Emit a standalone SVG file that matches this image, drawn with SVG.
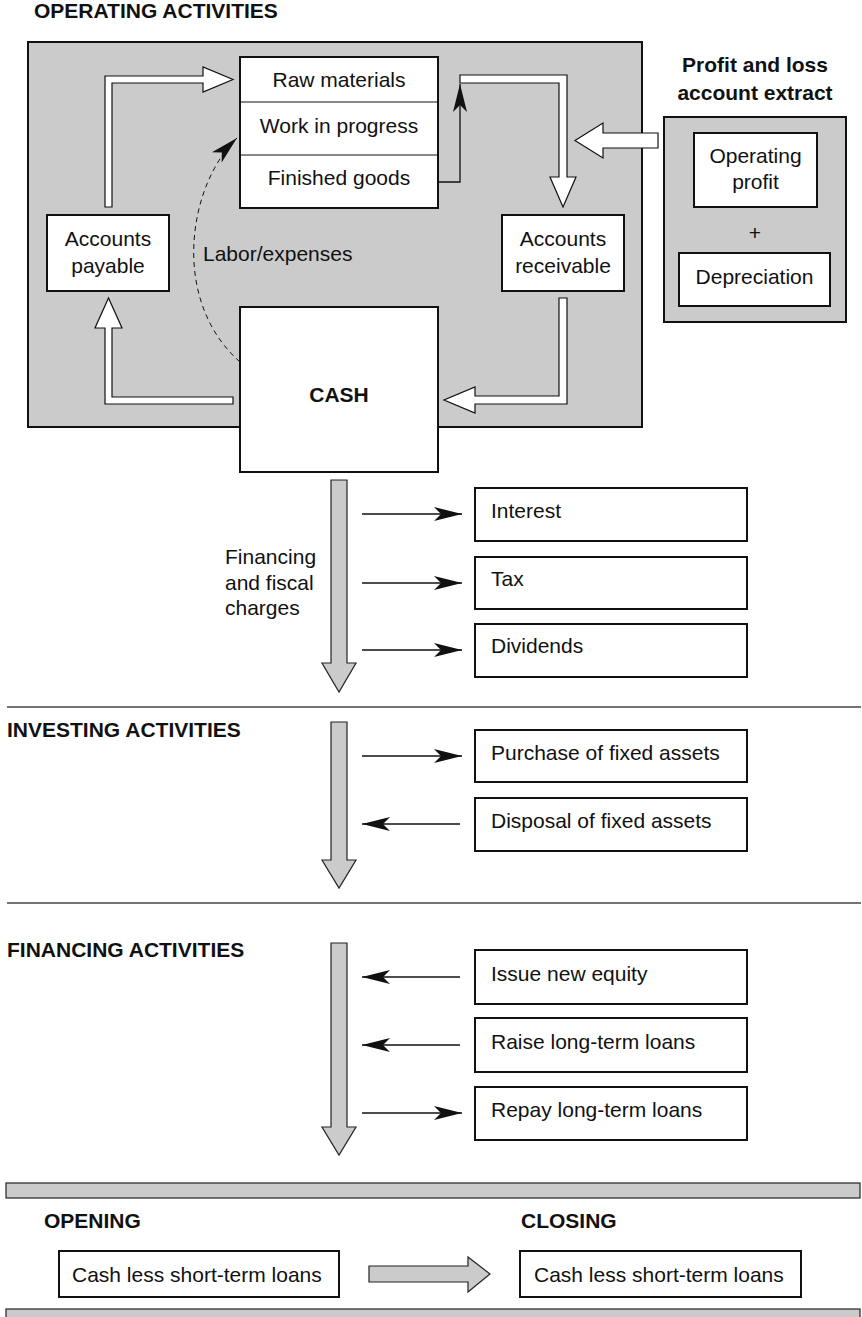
<svg xmlns="http://www.w3.org/2000/svg" width="862" height="1317" viewBox="0 0 862 1317">
<style>
text{font-family:"Liberation Sans",Arial,Helvetica,sans-serif;font-size:21px;fill:#111}
.b{font-weight:bold}
.m{text-anchor:middle}
.box{fill:#fff;stroke:#111;stroke-width:2}
.grey{fill:#cbcbcb;stroke:#111;stroke-width:2}
.hollow{fill:#fff;stroke:#111;stroke-width:1.2;stroke-linejoin:miter}
.garrow{fill:#cbcbcb;stroke:#222;stroke-width:1.2}
.thin{fill:none;stroke:#111;stroke-width:1.3}
.sep{stroke:#444;stroke-width:1.4}
</style>
<defs>
<marker id="ah" markerUnits="userSpaceOnUse" markerWidth="30" markerHeight="16" viewBox="-28 -8 28 16" refX="0" refY="0" orient="auto">
<path d="M0,0 L-28,-7 L-21,0 L-28,7 Z" fill="#111"/>
</marker>
</defs>

<!-- Section headings -->
<g id="heading-operating"><text class="b" x="34" y="18">OPERATING ACTIVITIES</text></g>

<g id="operating-area"><rect class="grey" x="28" y="42" width="614" height="385"/></g>

<g id="pl-extract">
<text class="b m" x="755" y="72">Profit and loss</text>
<text class="b m" x="755" y="100">account extract</text>
<rect class="grey" x="664" y="117" width="182" height="205"/>
</g>
<g id="operating-profit">
<rect class="box" x="694" y="133" width="123" height="74"/>
<text class="m" x="755.5" y="163">Operating</text>
<text class="m" x="755.5" y="189">profit</text>
</g>
<g id="plus"><text class="m" x="755" y="240">+</text></g>
<g id="depreciation">
<rect class="box" x="679" y="253" width="151" height="53"/>
<text class="m" x="754.5" y="284">Depreciation</text>
</g>

<g id="inventory">
<rect class="box" x="240" y="57" width="198" height="151"/>
<line x1="240" y1="102" x2="438" y2="102" stroke="#111" stroke-width="1"/>
<line x1="240" y1="155" x2="438" y2="155" stroke="#111" stroke-width="1"/>
<text class="m" x="339" y="87">Raw materials</text>
<text class="m" x="339" y="133">Work in progress</text>
<text class="m" x="339" y="185">Finished goods</text>
</g>

<g id="accounts-payable">
<rect class="box" x="47" y="215" width="122" height="76"/>
<text class="m" x="108" y="246">Accounts</text>
<text class="m" x="108" y="273">payable</text>
</g>

<g id="accounts-receivable">
<rect class="box" x="502" y="215" width="122" height="76"/>
<text class="m" x="563" y="246">Accounts</text>
<text class="m" x="563" y="273">receivable</text>
</g>

<g id="labor-label"><text x="203" y="261">Labor/expenses</text></g>

<g id="cash">
<rect class="box" x="240" y="307" width="198" height="165"/>
<text class="b m" x="339" y="402">CASH</text>
</g>

<g id="connectors">
<!-- hollow arrows in operating cycle -->
<polygon class="hollow" points="105,207 105,76 203,76 203,67 233,79.5 203,92 203,83 112,83 112,207"/>
<polygon class="hollow" points="233,397 112,397 112,328 122,328 108.5,298 95,328 105,328 105,404 233,404"/>
<polygon class="hollow" points="559,298 567,298 567,404 475,404 475,413 444,400 475,387 475,396 559,396"/>
<polygon class="hollow" points="460,75 567,75 567,177 576,177 563,207 550,177 559,177 559,83 460,83"/>
<polyline class="thin" points="437,182 460,182 460,84" marker-end="url(#ah)"/>
<polygon class="hollow" points="658,133 603,133 603,123 575,140.5 603,158 603,148 658,148"/>
<path d="M240,362 C170,300 188,185 237,138" fill="none" stroke="#111" stroke-width="1" stroke-dasharray="5,4" marker-end="url(#ah)"/>

<!-- gray flow arrows -->
<polygon class="garrow" points="331,480 347,480 347,663 356,663 339,692 322,663 331,663"/>
<polygon class="garrow" points="331,722 347,722 347,860 356,860 339,888 322,860 331,860"/>
<polygon class="garrow" points="331,943 347,943 347,1127 356,1127 339,1155 322,1127 331,1127"/>
<polygon class="garrow" points="369,1266 468,1266 468,1257 490,1274 468,1292 468,1282 369,1282"/>

<!-- thin arrows -->
<line class="thin" x1="362" y1="514" x2="462" y2="514" marker-end="url(#ah)"/>
<line class="thin" x1="362" y1="583" x2="462" y2="583" marker-end="url(#ah)"/>
<line class="thin" x1="362" y1="650" x2="462" y2="650" marker-end="url(#ah)"/>
<line class="thin" x1="362" y1="756" x2="462" y2="756" marker-end="url(#ah)"/>
<line class="thin" x1="460" y1="824" x2="362" y2="824" marker-end="url(#ah)"/>
<line class="thin" x1="460" y1="977" x2="362" y2="977" marker-end="url(#ah)"/>
<line class="thin" x1="460" y1="1045" x2="362" y2="1045" marker-end="url(#ah)"/>
<line class="thin" x1="362" y1="1113" x2="462" y2="1113" marker-end="url(#ah)"/>
</g>

<g id="financing-label">
<text x="225" y="564">Financing</text>
<text x="225" y="590">and fiscal</text>
<text x="225" y="615">charges</text>
</g>

<g id="interest"><rect class="box" x="475" y="488" width="272" height="53"/><text x="491" y="518">Interest</text></g>
<g id="tax"><rect class="box" x="475" y="557" width="272" height="52"/><text x="491" y="586">Tax</text></g>
<g id="dividends"><rect class="box" x="475" y="624" width="272" height="53"/><text x="491" y="653">Dividends</text></g>

<g id="separators">
<line class="sep" x1="7" y1="707" x2="861" y2="707"/>
<line class="sep" x1="7" y1="903" x2="861" y2="903"/>
</g>

<g id="heading-investing"><text class="b" x="7" y="737">INVESTING ACTIVITIES</text></g>
<g id="purchase"><rect class="box" x="475" y="730" width="272" height="52"/><text x="491" y="760">Purchase of fixed assets</text></g>
<g id="disposal"><rect class="box" x="475" y="798" width="272" height="53"/><text x="491" y="828">Disposal of fixed assets</text></g>

<g id="heading-financing"><text class="b" x="7" y="957">FINANCING ACTIVITIES</text></g>
<g id="issue-equity"><rect class="box" x="475" y="950" width="272" height="54"/><text x="491" y="981">Issue new equity</text></g>
<g id="raise-loans"><rect class="box" x="475" y="1018" width="272" height="54"/><text x="491" y="1049">Raise long-term loans</text></g>
<g id="repay-loans"><rect class="box" x="475" y="1087" width="272" height="53"/><text x="491" y="1117">Repay long-term loans</text></g>

<g id="bars">
<rect class="garrow" x="6" y="1183" width="854" height="15"/>
<rect class="garrow" x="6" y="1309" width="854" height="20"/>
</g>

<g id="opening">
<text class="b" x="44" y="1228">OPENING</text>
<rect class="box" x="59" y="1251" width="280" height="46"/>
<text x="72" y="1282">Cash less short-term loans</text>
</g>
<g id="closing">
<text class="b" x="521" y="1228">CLOSING</text>
<rect class="box" x="520" y="1251" width="281" height="46"/>
<text x="534" y="1282">Cash less short-term loans</text>
</g>
</svg>
